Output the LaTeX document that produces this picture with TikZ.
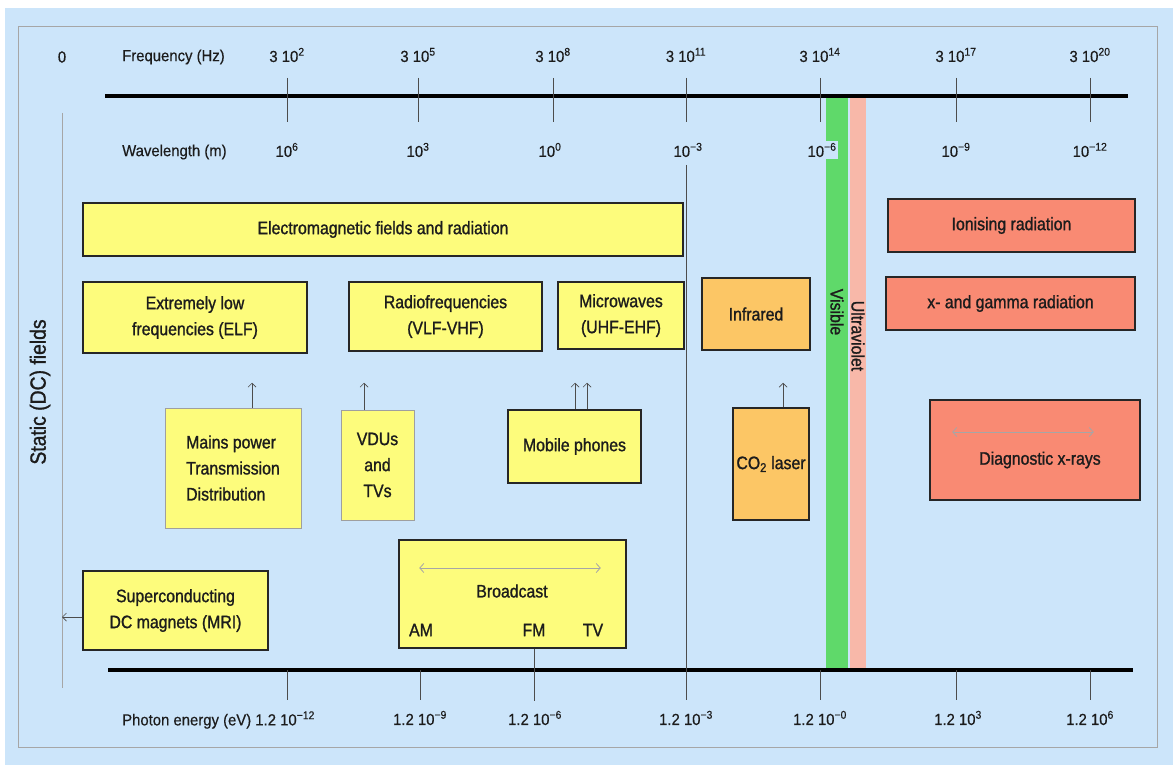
\documentclass[tikz,border=0pt]{standalone}
\usepackage{fontspec}
\setmainfont{Liberation Sans}
\newfontfamily\boxfont{Liberation Sans}[FakeStretch=0.88, FakeBold=1.2]
\newfontfamily\axfont{Liberation Sans}[FakeStretch=0.93, FakeBold=0.4]
\usetikzlibrary{arrows.meta}
\definecolor{bg}{HTML}{CCE5FA}
\definecolor{yel}{HTML}{FDFC7C}
\definecolor{org}{HTML}{FCC665}
\definecolor{sal}{HTML}{F98A73}
\definecolor{vis}{HTML}{5FD96A}
\definecolor{uv}{HTML}{F8B8A9}
\definecolor{txt}{HTML}{1C1C1C}
\begin{document}
\begin{tikzpicture}[x=1pt,y=-1pt,
  box/.style={draw=black!85, line width=1.5pt, fill=yel, align=center, inner sep=1pt, text=txt, font=\boxfont\fontsize{18}{26}\selectfont},
  thinbox/.style={box, draw=gray!75, line width=0.8pt},
  axlab/.style={text=txt, inner sep=0pt, font=\axfont\fontsize{16}{18}\selectfont},
  inlab/.style={text=txt, inner sep=0pt, font=\boxfont\fontsize{18}{20}\selectfont},
  tickline/.style={draw=black!70, line width=0.7pt},
  axisline/.style={draw=black, line width=3.6pt},
  frameline/.style={draw=gray!70, line width=0.8pt},
  arr/.style={draw=gray!60!black, line width=0.7pt, -{Straight Barb[length=4pt,width=8pt]}},
  darr/.style={draw=gray!70, line width=0.8pt, {Straight Barb[length=4pt,width=9pt]}-{Straight Barb[length=4pt,width=9pt]}}
]
\useasboundingbox (0,0) rectangle (1173,765);
\fill[white] (0,0) rectangle (1173,765);
\fill[bg] (5,8) rectangle (1173,765);
\draw[frameline] (18,26) rectangle (1157,747);

% spectrum strips
\fill[vis] (826,96) rectangle (848,670);
\fill[uv] (850,96) rectangle (866,670);

% static DC line
\coordinate (st1) at (62,113);
\coordinate (st2) at (62,688);
\draw[frameline] (st1) -- (st2);

% axis lines
\draw[axisline] (105,96) -- (1128,96);
\draw[axisline] (108,670) -- (1133,670);

% top ticks
\foreach \x in {287,418,553,686,820,956,1090} \draw[tickline] (\x,78) -- (\x,122);
\draw[tickline] (686,165) -- (686,700);
% bottom ticks
\foreach \x in {287,420,820,956,1090} \draw[tickline] (\x,670) -- (\x,700);

% frequency row
\node[axlab] (f0) at (62,57) {0};
\node[axlab, anchor=west] (flab) at (122,57) {Frequency (Hz)};
\node[axlab] (f1) at (287,55) {3 10\textsuperscript{2}};
\node[axlab] (f2) at (418,55) {3 10\textsuperscript{5}};
\node[axlab] (f3) at (553,55) {3 10\textsuperscript{8}};
\node[axlab] (f4) at (686,55) {3 10\textsuperscript{11}};
\node[axlab] (f5) at (820,55) {3 10\textsuperscript{14}};
\node[axlab] (f6) at (956,55) {3 10\textsuperscript{17}};
\node[axlab] (f7) at (1090,55) {3 10\textsuperscript{20}};

% wavelength row
\node[axlab, anchor=west] (wlab) at (122,152) {Wavelength (m)};
\node[axlab] (w1) at (287,150) {10\textsuperscript{6}};
\node[axlab] (w2) at (418,150) {10\textsuperscript{3}};
\node[axlab] (w3) at (550,150) {10\textsuperscript{0}};
\node[axlab] (w4) at (688,150) {10\textsuperscript{−3}};
\node[axlab, fill=bg, inner sep=2pt] (w5) at (822,150) {10\textsuperscript{−6}};
\node[axlab] (w6) at (956,150) {10\textsuperscript{−9}};
\node[axlab] (w7) at (1090,150) {10\textsuperscript{−12}};

% energy row
\node[axlab, anchor=west] (elab) at (122,720) {Photon energy (eV) 1.2 10\textsuperscript{−12}};
\node[axlab] (e2) at (420,718) {1.2 10\textsuperscript{−9}};
\node[axlab] (e3) at (535,718) {1.2 10\textsuperscript{−6}};
\node[axlab] (e4) at (686,718) {1.2 10\textsuperscript{−3}};
\node[axlab] (e5) at (820,718) {1.2 10\textsuperscript{−0}};
\node[axlab] (e6) at (958,718) {1.2 10\textsuperscript{3}};
\node[axlab] (e7) at (1090,718) {1.2 10\textsuperscript{6}};

% static label
\node[axlab, rotate=90, font=\boxfont\fontsize{22}{24}\selectfont] (static) at (40,392) {Static (DC) fields};

% strip labels
\node[inlab, rotate=-90] (visl) at (837,312) {Visible};
\node[inlab, rotate=-90] (uvl) at (858,336) {Ultraviolet};

% boxes
\node[box, minimum width=600pt, minimum height=53pt] (em) at (383,229.5) {Electromagnetic fields and radiation};
\node[box, fill=sal, minimum width=247pt, minimum height=53pt] (ion) at (1011.5,225.5) {Ionising radiation};
\node[box, minimum width=224pt, minimum height=71pt] (elf) at (195,317.5) {Extremely low\\frequencies (ELF)};
\node[box, minimum width=193pt, minimum height=69pt] (rf) at (445.5,316.5) {Radiofrequencies\\(VLF-VHF)};
\node[box, minimum width=126pt, minimum height=67pt] (mw) at (621,315.5) {Microwaves\\(UHF-EHF)};
\node[box, fill=org, minimum width=108pt, minimum height=72pt] (ir) at (756,314) {Infrared};
\node[box, fill=sal, minimum width=249pt, minimum height=53pt] (xg) at (1010.5,303.5) {x- and gamma radiation};
\node[thinbox, align=left, minimum width=136pt, minimum height=120pt] (mains) at (233,468) {Mains power\\Transmission\\Distribution};
\node[thinbox, minimum width=73pt, minimum height=110pt] (vdu) at (377.5,465) {VDUs\\and\\TVs};
\node[box, minimum width=133pt, minimum height=73pt] (mob) at (574.5,446.5) {Mobile phones};
\node[box, fill=org, minimum width=76pt, minimum height=112pt] (co2) at (771,464) {CO\textsubscript{2} laser};
\node[box, fill=sal, minimum width=210pt, minimum height=100pt] (diag) at (1035,450) {};
\node[inlab] (diagt) at (1040,460) {Diagnostic x-rays};
\node[box, minimum width=227pt, minimum height=108pt] (bc) at (512.5,594) {};
\node[inlab] (bct) at (512,591) {Broadcast};
\node[inlab] (am) at (421,630) {AM};
\node[inlab] (fm) at (534,630) {FM};
\node[inlab] (tv) at (593,630) {TV};
\node[box, minimum width=185pt, minimum height=79pt] (mri) at (175.5,610.5) {Superconducting\\DC magnets (MRI)};

% FM tick
\draw[tickline] (bc.south -| fm) -- ++(0,52);

% arrows
\draw[arr, shorten >=29pt] ([xshift=19pt]mains.north) -- ([xshift=19pt]mains.north |- elf.south);
\draw[arr, shorten >=31pt] ([xshift=-13.5pt]vdu.north) -- ([xshift=-13.5pt]vdu.north |- rf.south);
\draw[arr, shorten >=33pt] ([xshift=0.5pt]mob.north) -- ([xshift=0.5pt]mob.north |- mw.south);
\draw[arr, shorten >=33pt] ([xshift=12.5pt]mob.north) -- ([xshift=12.5pt]mob.north |- mw.south);
\draw[arr, shorten >=32pt] ([xshift=12pt]co2.north) -- ([xshift=12pt]co2.north |- ir.south);
\draw[arr] ([yshift=-6.5pt]mri.west) -- ([yshift=-6.5pt]mri.west -| st1);
\draw[darr] ([xshift=23pt,yshift=18pt]diag.west) -- ([xshift=-47pt,yshift=18pt]diag.east);
\draw[darr] ([xshift=21pt,yshift=26pt]bc.west) -- ([xshift=-26pt,yshift=26pt]bc.east);
\end{tikzpicture}
\end{document}
